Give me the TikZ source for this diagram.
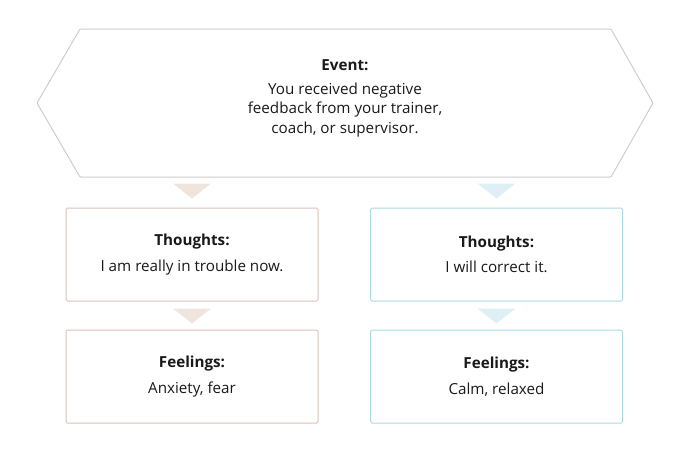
\documentclass[tikz,border=0pt]{standalone}
\usepackage{fontspec}
\setmainfont{Open Sans}
\usepackage{tikz}
\usetikzlibrary{
  positioning,
  calc
}
\definecolor{hexcolor}{RGB}{205, 205, 205}
\definecolor{textcolor}{RGB}{25, 25, 25}
\definecolor{warmline}{RGB}{218, 194, 184}
\definecolor{warmfill}{RGB}{240, 229, 221}
\definecolor{coolline}{RGB}{172, 216, 228}
\definecolor{coolfill}{RGB}{222, 240, 246}
\tikzset{
boxtext/.style={
  align=center,
  font=\fontsize{15.2pt}{19.5pt}\selectfont,
  text=textcolor
},
warmbox/.style={
  draw=warmline,
  rounded corners=1.5pt,
  line width=1pt,
  minimum height=93pt,
  minimum width=252pt,
  boxtext
},
coolbox/.style={
  draw=coolline,
  rounded corners=1.5pt,
  line width=1pt,
  minimum height=93pt,
  minimum width=252pt,
  boxtext
},
hexline/.style={
  draw=hexcolor,
  line width=1pt,
  rounded corners=1pt
},
warmtri/.style={
  fill=warmfill
},
cooltri/.style={
  fill=coolfill
}
}

\begin{document}
\begin{tikzpicture}[x=1pt, y=-1pt, node distance=28pt]
  \useasboundingbox (0,0) rectangle (690,455);
  % event hexagon
  \draw[hexline] (37,103) -- (80,29) -- (611,29) -- (653,103) -- (611,177) -- (80,177) -- cycle;
  \node[boxtext] (event) at (345,98.5) {\textbf{Event:}\\[4pt]
    You received negative\\ feedback from your trainer,\\ coach, or supervisor.};

  % boxes
  \node[warmbox] (lthoughts) at (192,254.5) {\textbf{Thoughts:}\\[6pt] I am really in trouble now.};
  \node[coolbox] (rthoughts) at (496.5,254.5) {\textbf{Thoughts:}\\[6pt] I will correct it.};
  \node[warmbox, below=of lthoughts] (lfeelings) {\textbf{Feelings:}\\[6pt] Anxiety, fear};
  \node[coolbox, below=of rthoughts] (rfeelings) {\textbf{Feelings:}\\[6pt] Calm, relaxed};

  % triangles
  \fill[warmtri] ($(lthoughts.north)+(-19,-24)$) -- ++(38,0) -- ($(lthoughts.north)+(0,-9)$) -- cycle;
  \fill[cooltri] ($(rthoughts.north)+(-19,-24)$) -- ++(38,0) -- ($(rthoughts.north)+(0,-9)$) -- cycle;
  \fill[warmtri] ($(lfeelings.north)+(-19,-21)$) -- ++(38,0) -- ($(lfeelings.north)+(0,-6)$) -- cycle;
  \fill[cooltri] ($(rfeelings.north)+(-19,-21)$) -- ++(38,0) -- ($(rfeelings.north)+(0,-6)$) -- cycle;
\end{tikzpicture}
\end{document}
